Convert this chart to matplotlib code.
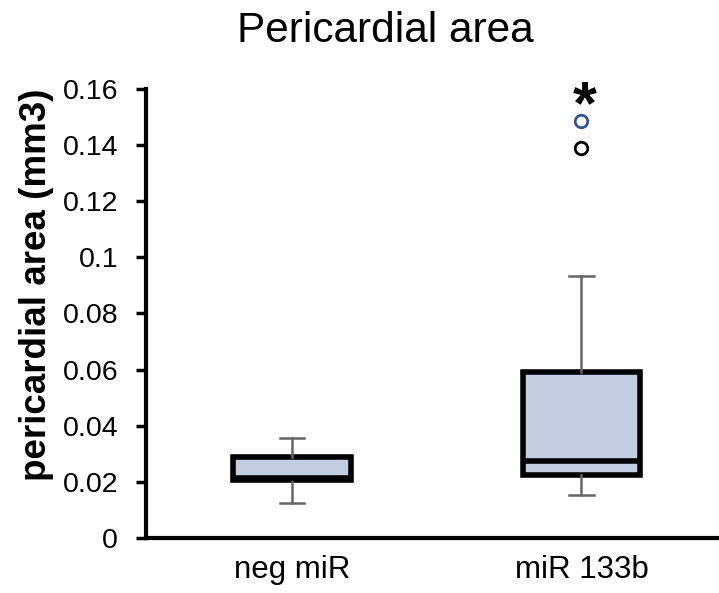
import matplotlib
matplotlib.use("Agg")
import matplotlib.pyplot as plt

plt.rcParams["font.family"] = ["Liberation Sans", "DejaVu Sans"]

# data
groups = ["neg miR", "miR 133b"]
q1 = [0.0205, 0.0225]
median = [0.0213, 0.0275]
q3 = [0.029, 0.059]
whisker_low = [0.0125, 0.0155]
whisker_high = [0.0355, 0.0935]
outliers_black = [[], [0.1390]]
outliers_blue = [[], [0.1485]]
star_y = [None, 0.1535]

box_pos = [0.51, 1.52]

fig = plt.figure(figsize=(7.19, 5.93), dpi=100)
ax = fig.add_axes([0.203, 0.0927, 0.797, 0.7573])

stats = []
for i, g in enumerate(groups):
    stats.append(dict(label=g, q1=q1[i], med=median[i], q3=q3[i],
                      whislo=whisker_low[i], whishi=whisker_high[i], fliers=[]))

ax.bxp(stats, positions=box_pos, widths=0.41, patch_artist=True, showfliers=False,
       boxprops=dict(facecolor="#C5CDE0", edgecolor="black", linewidth=4),
       medianprops=dict(color="black", linewidth=4),
       whiskerprops=dict(color="#666666", linewidth=1.8),
       capprops=dict(color="#666666", linewidth=1.8),
       capwidths=0.085)

for i in range(len(groups)):
    for v in outliers_black[i]:
        ax.plot(box_pos[i], v, "o", ms=9, mfc="white", mec="black", mew=2, clip_on=False)
    for v in outliers_blue[i]:
        ax.plot(box_pos[i], v, "o", ms=9, mfc="white", mec="#2F5597", mew=2, clip_on=False)
    if star_y[i] is not None:
        ax.text(box_pos[i] + 0.01, star_y[i], "*", ha="center", va="center",
                fontsize=44, fontweight="bold", clip_on=False)

ax.set_xlim(0, 2)
ax.set_ylim(0, 0.16)
ax.set_yticks([0, 0.02, 0.04, 0.06, 0.08, 0.1, 0.12, 0.14, 0.16])
ax.set_yticklabels(["0", "0.02", "0.04", "0.06", "0.08", "0.1", "0.12", "0.14", "0.16"])
ax.set_xticks(box_pos)
ax.set_xticklabels(groups)
ax.tick_params(axis="y", direction="out", length=7, width=2.5, labelsize=20.5, pad=13)
ax.tick_params(axis="x", length=0, labelsize=22.5, pad=12)

for s in ["top", "right"]:
    ax.spines[s].set_visible(False)
for s in ["left", "bottom"]:
    ax.spines[s].set_linewidth(3)

ax.set_ylabel("pericardial area (mm3)", fontsize=26.5, fontweight="bold")
ax.yaxis.set_label_coords(-0.160, 0.563)
fig.text(0.536, 0.948, "Pericardial area", ha="center", va="center", fontsize=30.5)

fig.savefig("out.png", dpi=100)
